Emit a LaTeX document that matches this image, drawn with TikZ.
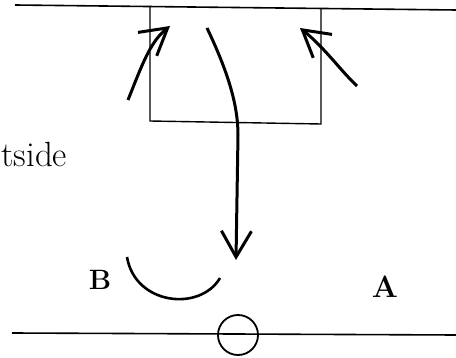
\documentclass[tikz,border=0pt]{standalone}
\usetikzlibrary{arrows.meta}
\begin{document}
\begin{tikzpicture}[
  x=0.5pt, y=-0.5pt,
  wall/.style={line width=0.8pt},
  hood/.style={line width=0.7pt},
  flow/.style={line width=1.5pt, -{Straight Barb[length=13pt, width=15pt, line width=1.5pt]}},
  swirl/.style={line width=1.3pt},
  sidelabel/.style={font=\fontsize{17.5}{21}\selectfont, anchor=base west, inner sep=0pt},
  zonelabel/.style={font=\fontsize{14}{17}\selectfont\bfseries, anchor=base, inner sep=0pt}
]
\useasboundingbox (0,0) rectangle (456,358);
% ceiling, floor and the hood above
\coordinate (ceilL) at (15,5);
\coordinate (ceilR) at (456,10);
\coordinate (floorL) at (12,333);
\coordinate (floorR) at (456,335);
\draw[wall] (ceilL) -- (ceilR);
\draw[wall] (floorL) -- (floorR);
\draw[hood] (150,6) -- (150,121) -- (321,124) -- (321,9);
% inlet on the floor
\node[draw, circle, line width=0.9pt, minimum size=20pt, inner sep=0pt] (inlet) at (238,335) {};
% labels
\node[sidelabel] (outside) at (1,167) {tside};
\node[zonelabel] (zoneB) at (100,290) {B};
\node[zonelabel, scale=1.1] (zoneA) at (385,298) {A};
% air flow
\coordinate (leftTail) at (128,100);
\coordinate (leftTip) at (170,26);
\coordinate (rightTail) at (357,86);
\coordinate (rightTip) at (300,28);
\coordinate (downStart) at (207,28);
\coordinate (downTip) at (236,260);
\coordinate (swirlA) at (127,257);
\coordinate (swirlB) at (220,278);
\draw[flow] (leftTail) .. controls (142,65) and (150,42) .. (leftTip);
\draw[flow] (rightTail) .. controls (340,70) and (325,48) .. (rightTip);
\draw[flow] (downStart) .. controls (228,72) and (238,105) .. (238,135) -- (downTip);
\draw[swirl] (swirlA) .. controls (135,305) and (200,312) .. (swirlB);
\end{tikzpicture}
\end{document}
